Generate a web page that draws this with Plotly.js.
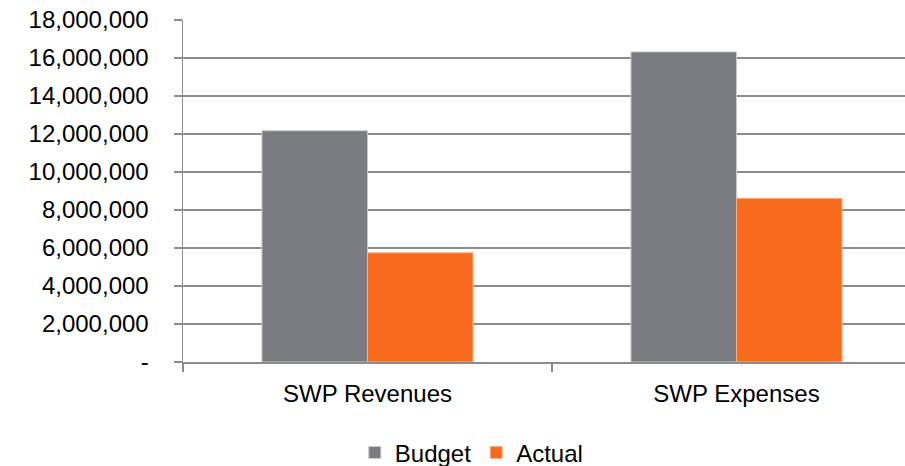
<!DOCTYPE html>
<html>
<head>
<meta charset="utf-8">
<script src="https://cdn.plot.ly/plotly-3.0.1.min.js"></script>
<style>html,body{margin:0;padding:0;background:#fff;}#chart{width:905px;height:466px;}</style>
</head>
<body>
<div id="chart"></div>
<script>
var categories = ["SWP Revenues", "SWP Expenses"];
var budgetValues = [12170000, 16320000];
var actualValues = [5750000, 8620000];
var seriesNames = ["Budget", "Actual"];
var yTickVals = [0, 2000000, 4000000, 6000000, 8000000, 10000000, 12000000, 14000000, 16000000, 18000000];
var yTickText = ["-", "2,000,000", "4,000,000", "6,000,000", "8,000,000", "10,000,000", "12,000,000", "14,000,000", "16,000,000", "18,000,000"];

var font = {family: "Liberation Sans, Arial, sans-serif", size: 24, color: "#000"};
var traces = [
  {type: "bar", name: seriesNames[0], x: categories, y: budgetValues,
   marker: {color: "#7b7c80", line: {color: "#c8c8ca", width: 1}}},
  {type: "bar", name: seriesNames[1], x: categories, y: actualValues,
   marker: {color: "#f96b1c", line: {color: "#fbb48a", width: 1}}}
];
var layout = {
  width: 905, height: 466,
  margin: {l: 183, r: 0, t: 20, b: 104, pad: 0, autoexpand: false},
  paper_bgcolor: "#fff", plot_bgcolor: "#fff",
  font: font,
  barmode: "group", bargap: 0.428, bargroupgap: 0,
  showlegend: true,
  legend: {orientation: "h", x: 0.40, xanchor: "center", y: 0.028, yref: "container",
           yanchor: "middle", font: font, itemwidth: 30, tracegroupgap: 0},
  xaxis: {type: "category", range: [-0.5, 1.4566], showgrid: false, showline: true,
          linecolor: "#8c8c8c", linewidth: 1.5, ticks: "outside", tickson: "boundaries",
          ticklen: 8, tickcolor: "#8c8c8c", tickwidth: 1.5, tickfont: font,
          ticklabelstandoff: 10, fixedrange: true, automargin: false},
  yaxis: {range: [0, 18000000], tickvals: yTickVals, ticktext: yTickText,
          showgrid: true, gridcolor: "#8c8c8c", gridwidth: 1.5, zeroline: false,
          showline: true, linecolor: "#8c8c8c", linewidth: 1.5,
          ticks: "outside", ticklen: 8, tickcolor: "#8c8c8c", tickwidth: 1.5,
          tickfont: font, ticklabelstandoff: 20, fixedrange: true, automargin: false}
};
Plotly.newPlot("chart", traces, layout, {displayModeBar: false, staticPlot: true});
</script>
</body>
</html>
